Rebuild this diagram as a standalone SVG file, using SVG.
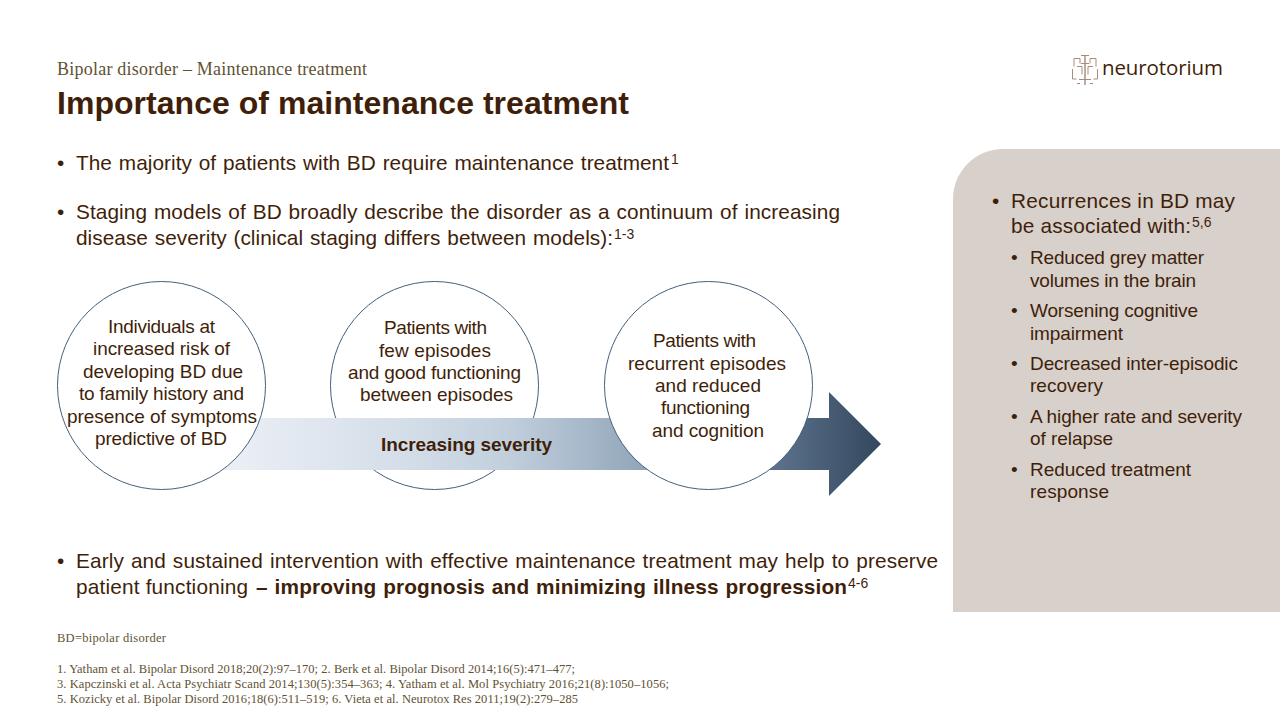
<svg xmlns="http://www.w3.org/2000/svg" width="1280" height="720" viewBox="0 0 1280 720">
<style>
text{font-family:"Liberation Sans",Arial,sans-serif;fill:#3f1f0a}
.b{font-size:20.8px}
.u{font-size:14px}
.c{font-size:19px}
.s{font-size:19px}
.h{font-size:20.8px}
text.f{font-family:"Liberation Serif","Times New Roman",serif;font-size:12.500px;fill:#5f5232}
.n{fill:#fff;stroke:#44607c;stroke-width:1}
</style>
<defs><linearGradient id="g" gradientUnits="userSpaceOnUse" x1="210" y1="0" x2="881" y2="0"><stop offset="0" stop-color="#eef1f7"/><stop offset="0.3" stop-color="#d3dde8"/><stop offset="0.45" stop-color="#c0cedc"/><stop offset="0.65" stop-color="#90a5b9"/><stop offset="0.85" stop-color="#5a7088"/><stop offset="1" stop-color="#33485f"/></linearGradient></defs>
<rect width="1280" height="720" fill="#fff"/>
<path d="M1280 149H1003a50 50 0 0 0-50 50V612H1280Z" fill="#d8d0ca"/>
<text class="f" x="57" y="75" style="font-size:18px" textLength="310">Bipolar disorder – Maintenance treatment</text>
<text x="57" y="113.500" font-size="32" font-weight="700" textLength="572">Importance of maintenance treatment</text>
<g id="logo" fill="none" stroke="#a58d7e" stroke-width="1"><path d="M1085 55v30" stroke="#7a5a48"/><path d="M1081 55.500h8M1081 63.500h8M1079 79.500h12M1074 58.500h6v5M1096 58.500h-6v5M1074 58.500v8M1096 58.500v8M1072.500 69v10h4M1097.500 69v10h-4M1077 66.500h5v8M1093 66.500h-5v8M1077 83.500h3M1090 83.500h3"/></g>
<text x="1102" y="75" font-size="20.5" textLength="121" style="font-family:'Open Sans',sans-serif">neurotorium</text>
<g class="b">
<text x="57" y="170">•</text><text x="76" y="170" word-spacing="1" textLength="593">The majority of patients with BD require maintenance treatment</text><text class="u" x="671" y="164">1</text>
<text x="57" y="219">•</text><text x="76" y="219" word-spacing="1" textLength="764">Staging models of BD broadly describe the disorder as a continuum of increasing</text>
<text x="76" y="245" word-spacing="1" textLength="537">disease severity (clinical staging differs between models):</text><text class="u" x="614" y="239">1-3</text>
<text x="57" y="568">•</text><text x="76" y="568" word-spacing="1" textLength="862">Early and sustained intervention with effective maintenance treatment may help to preserve</text>
<text x="76" y="594" textLength="172">patient functioning</text>
<text x="256" y="594" font-weight="700" textLength="591" word-spacing="1">– improving prognosis and minimizing illness progression</text><text class="u" x="848" y="588">4-6</text>
</g>
<g id="n2"><circle class="n" cx="434.500" cy="385.500" r="104"/><g class="c"><text x="384" y="334" textLength="103">Patients with</text><text x="379" y="357" textLength="112">few episodes</text><text x="348" y="379" textLength="173">and good functioning</text><text x="360" y="401" textLength="153">between episodes</text></g></g>
<path id="arrow" d="M210 418H829V392L881 444L829 496V470H210Z" fill="url(#g)"/>
<g id="n1"><circle class="n" cx="161.500" cy="385.500" r="104"/><g class="c"><text x="108" y="333" textLength="107">Individuals at</text><text x="93" y="355" textLength="137">increased risk of</text><text x="83" y="378" textLength="160">developing BD due</text><text x="79" y="400" textLength="165">to family history and</text><text x="67" y="423" textLength="190">presence of symptoms</text><text x="95" y="445" textLength="132">predictive of BD</text></g></g>
<g id="n3"><circle class="n" cx="708.500" cy="385.500" r="104"/><g class="c"><text x="653" y="347" textLength="103">Patients with</text><text x="628" y="370" textLength="158">recurrent episodes</text><text x="655" y="392" textLength="106">and reduced</text><text x="661" y="414" textLength="89">functioning</text><text x="652" y="437" textLength="112">and cognition</text></g></g>
<text x="381" y="451" font-size="19" font-weight="700" textLength="171">Increasing severity</text>
<g id="side">
<g class="h"><text x="992" y="208">•</text><text x="1011" y="208" textLength="224">Recurrences in BD may</text><text x="1011" y="233" textLength="180">be associated with:</text><text class="u" x="1192" y="227">5,6</text></g>
<g class="s">
<text x="1011" y="264">•</text><text x="1030" y="264" textLength="174">Reduced grey matter</text><text x="1030" y="287" textLength="166">volumes in the brain</text>
<text x="1011" y="317">•</text><text x="1030" y="317" textLength="168">Worsening cognitive</text><text x="1030" y="340" textLength="93">impairment</text>
<text x="1011" y="370">•</text><text x="1030" y="370" textLength="208">Decreased inter-episodic</text><text x="1030" y="392" textLength="73">recovery</text>
<text x="1011" y="423">•</text><text x="1030" y="423" textLength="212">A higher rate and severity</text><text x="1030" y="445" textLength="83">of relapse</text>
<text x="1011" y="476">•</text><text x="1030" y="476" textLength="161">Reduced treatment</text><text x="1030" y="498" textLength="79">response</text>
</g></g>
<text class="f" x="57" y="642" textLength="109">BD=bipolar disorder</text>
<text class="f" x="57" y="673" textLength="518">1. Yatham et al. Bipolar Disord 2018;20(2):97–170; 2. Berk et al. Bipolar Disord 2014;16(5):471–477;</text>
<text class="f" x="57" y="688" textLength="612">3. Kapczinski et al. Acta Psychiatr Scand 2014;130(5):354–363; 4. Yatham et al. Mol Psychiatry 2016;21(8):1050–1056;</text>
<text class="f" x="57" y="703" textLength="521">5. Kozicky et al. Bipolar Disord 2016;18(6):511–519; 6. Vieta et al. Neurotox Res 2011;19(2):279–285</text>
</svg>
